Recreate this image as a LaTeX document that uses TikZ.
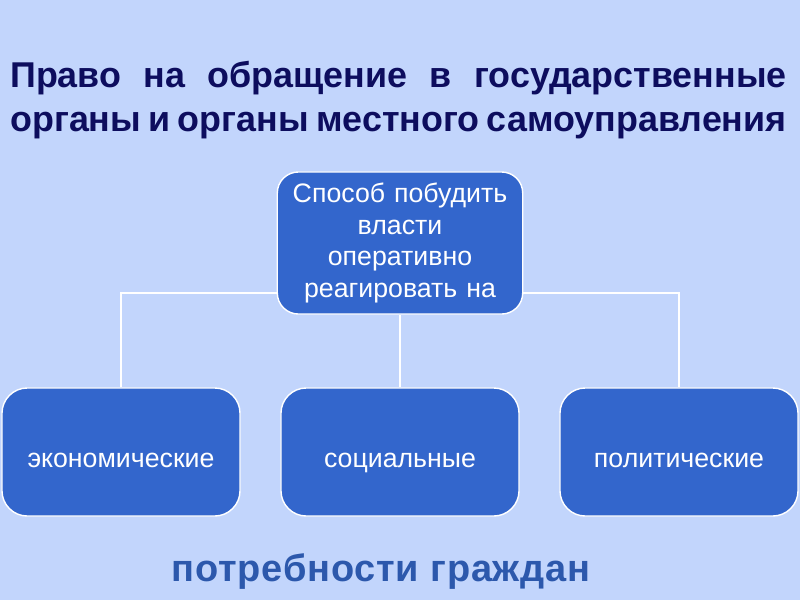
\documentclass[tikz,border=0pt]{standalone}
\usepackage{fontspec}
\setmainfont{Liberation Sans}
\newfontfamily\widefont[LetterSpace=2]{Liberation Sans}
\usetikzlibrary{backgrounds}

\definecolor{slidebg}{HTML}{C2D5FC}
\definecolor{boxblue}{HTML}{3366CC}
\definecolor{titleblue}{HTML}{0D0D5E}
\definecolor{needblue}{HTML}{2C58AC}

\tikzset{
    rootbox/.style={draw=white, line width=1pt, fill=boxblue, rounded corners=15,
        minimum width=6cm, minimum height=3.55cm, text width=5.9cm, align=center,
        text=white, font=\fontsize{19}{22.5}\selectfont},
    kindbox/.style={draw=white, line width=1pt, fill=boxblue, rounded corners=18,
        minimum width=5.95cm, minimum height=3.2cm, align=center,
        text height=22pt, text depth=0pt,
        text=white, font=\fontsize{19}{22.5}\selectfont},
    link/.style={draw=white, line width=1.5pt}
}

\begin{document}
\begin{tikzpicture}[x=0.025cm, y=-0.025cm]
            \useasboundingbox (0,0) rectangle (800,600);

            \node[anchor=base west, text=titleblue, font=\bfseries\fontsize{25.5}{30}\selectfont, inner sep=0]
                (titleA) at (10,87) {\hbox to 19.4cm{Право\hfill на\hfill обращение\hfill в\hfill государственные}};
            \node[anchor=base west, text=titleblue, font=\bfseries\fontsize{25.5}{30}\selectfont, inner sep=0]
                (titleB) at (10,131) {\hbox to 19.4cm{органы\hfill и\hfill органы\hfill местного\hfill самоуправления}};

            \node[rootbox] (root) at (400,243) {Способ побудить\\ власти\\ оперативно\\ реагировать на};

            \node[kindbox] (econ) at (121,452) {экономические};
            \node[kindbox] (social) at (400,452) {социальные};
            \node[kindbox] (polit) at (679,452) {политические};

            \node[text=needblue, font=\widefont\bfseries\fontsize{27}{30}\selectfont]
                (needs) at (381,572) {потребности граждан};

            \begin{pgfonlayer}{background}
                \fill[slidebg] (0,0) rectangle (800,600);
                \draw[link] (econ.north) -- ++(0,-94) -| (polit.north);
                \draw[link] (root) -- (social);
            \end{pgfonlayer}

        \end{tikzpicture}
\end{document}
